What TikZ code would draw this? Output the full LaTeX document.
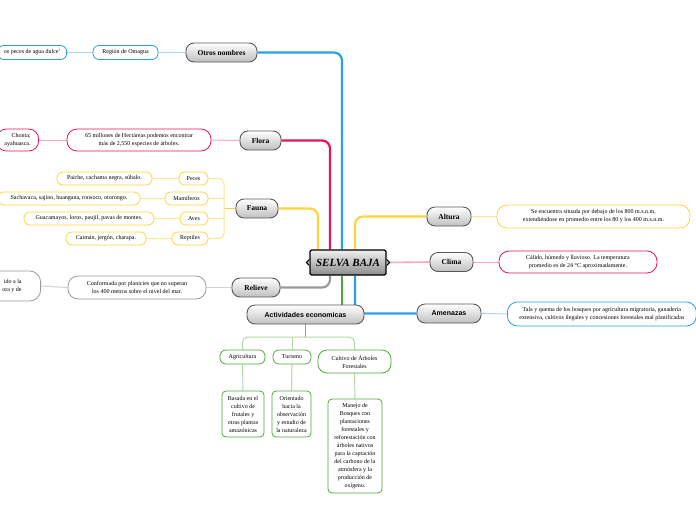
\documentclass[tikz,border=0pt]{standalone}
\usepackage{fontspec}
\setmainfont{Liberation Serif}
\newfontfamily\sansbold{Liberation Sans}
\usetikzlibrary{backgrounds}

\definecolor{azul}{HTML}{2AA0E6}
\definecolor{azulclaro}{HTML}{A6D7F3}
\definecolor{carmin}{HTML}{E0185A}
\definecolor{rosaclaro}{HTML}{F5A9C3}
\definecolor{amarillo}{HTML}{FFD43B}
\definecolor{amarilloclaro}{HTML}{FFE58C}
\definecolor{gris}{HTML}{9A9A9A}
\definecolor{grisclaro}{HTML}{D2D2D2}
\definecolor{verde}{HTML}{4FA83D}
\definecolor{verdeclaro}{HTML}{B0D9A3}

\begin{document}
\begin{tikzpicture}[x=1pt,y=-1pt,
    tema/.style={draw=black!65, line width=.9pt, rounded corners=8pt, top color=white, bottom color=black!25,
      font=\fontsize{7.5}{9}\selectfont\bfseries, minimum height=19pt, inner sep=1pt},
    hoja/.style={draw, line width=.8pt, fill=white, font=\fontsize{6}{8}\selectfont, align=center,
      inner sep=1pt, minimum height=13pt, rounded corners=6pt}]

        \useasboundingbox (0,0) rectangle (696,520);

        \node[draw=black, line width=1.3pt, rounded corners=1.5pt, top color=black!6, bottom color=black!45,
          font=\fontsize{11}{13}\selectfont\bfseries\itshape, minimum width=76pt, minimum height=25pt,
          inner sep=1pt] (selva) at (348,262.5) {SELVA BAJA};
        \draw[black, line width=1pt, fill=black!25] ([yshift=3pt]selva.west) -- ++(-3,3) -- ++(3,3);
        \draw[black, line width=1pt, fill=black!25] ([yshift=3pt]selva.east) -- ++(3,3) -- ++(-3,3);

        \begin{scope}[every node/.style={tema}]
          \node[minimum width=71pt] (otros)    at (221.5,52.5)  {Otros nombres};
          \node[minimum width=41pt] (flora)    at (260.5,140.5) {Flora};
          \node[minimum width=42pt] (fauna)    at (257,208.5)   {Fauna};
          \node[minimum width=48pt] (relieve)  at (256,287.5)   {Relieve};
          \node[minimum width=117pt, font=\fontsize{7}{9}\selectfont\sansbold\bfseries] (actividades) at (305.5,314.5) {Actividades economicas};
          \node[minimum width=44pt] (altura)   at (449,216.5)   {Altura};
          \node[minimum width=43pt] (clima)    at (451.5,262)   {Clima};
          \node[minimum width=64pt, font=\fontsize{7}{9}\selectfont\sansbold\bfseries] (amenazas) at (449,313.5) {Amenazas};
        \end{scope}

        \begin{scope}[every node/.style={hoja}]
          \node[draw=azul, minimum width=65pt, minimum height=14pt] (omagua) at (125.5,52.5) {Región de Omagua};
          \node[draw=azul, anchor=east, inner xsep=6pt, minimum height=14pt] (dulce) at (67,52.5) {os peces de agua dulce'};

          \node[draw=carmin, minimum width=144pt, minimum height=22pt, rounded corners=10pt] (hectareas) at (139,140)
            {65 millones de Hectáreas podemos encontrar\\más de 2,550 especies de árboles.};
          \node[draw=carmin, anchor=east, align=right, inner xsep=8pt, minimum height=22pt, rounded corners=10pt] (chonta) at (39,140)
            {Chonta;\\ayahuasca.};

          \node[draw=amarillo, minimum width=29pt] (peces)     at (193.5,178.5) {Peces};
          \node[draw=amarillo, minimum width=43pt] (mamiferos) at (186.5,198.5) {Mamíferos};
          \node[draw=amarillo, minimum width=28pt] (aves)      at (194,218.5)   {Aves};
          \node[draw=amarillo, minimum width=36pt] (reptiles)  at (190,238.5)   {Reptiles};
          \node[draw=amarillo, minimum width=95pt]  (paiche)     at (104.5,178.5) {Paiche, cachama negra, súbalo.};
          \node[draw=amarillo, minimum width=142pt] (sachavaca)  at (69,198.5)    {Sachavaca, sajino, huangana, ronsoco, otorongo.};
          \node[draw=amarillo, minimum width=130pt] (guacamayos) at (89,218.5)    {Guacamayos, loros, paujil, pavas de montes.};
          \node[draw=amarillo, minimum width=80pt]  (caiman)     at (106,238.5)   {Caimán, jergón, charapa.};

          \node[draw=gris, minimum width=138pt, minimum height=23pt, rounded corners=10pt] (planicies) at (137,287.5)
            {Conformada por planicies que no superan\\los 400 metros sobre el nivel del mar.};
          \node[draw=gris, anchor=east, align=right, inner xsep=19pt, minimum height=30pt, rounded corners=11pt] (corte) at (41,286)
            {ido a la\\ora y de};

          \node[draw=verde, minimum width=45pt, minimum height=14pt] (agricultura) at (242.5,357) {Agricultura};
          \node[draw=verde, minimum width=38pt, minimum height=14pt] (turismo)     at (292,357)   {Turismo};
          \node[draw=verde, minimum width=73pt, minimum height=23pt, rounded corners=9pt] (cultivo) at (354.5,361.5)
            {Cultivo de Árboles\\Forestales};
          \node[draw=verde, minimum width=42pt, minimum height=46pt, rounded corners=4pt] (basada) at (243,414)
            {Basada en el\\cultivo de\\frutales y\\otras plantas\\amazónicas};
          \node[draw=verde, minimum width=39pt, minimum height=46pt, rounded corners=4pt] (orientado) at (291.5,414)
            {Orientado\\hacia la\\observación\\y estudio de\\la naturaleza};
          \node[draw=verde, minimum width=54pt, minimum height=94pt, rounded corners=4pt] (manejo) at (355,446)
            {Manejo de\\Bosques con\\plantaciones\\forestales y\\reforestación con\\árboles nativos\\para la captación\\del carbono de la\\atmósfera y la\\producción de\\oxígeno.};

          \node[draw=amarillo, minimum width=193pt, minimum height=23pt, rounded corners=10pt] (situada) at (593.5,216.5)
            {Se encuentra situada por debajo de los 800 m.s.n.m,\\extendiéndose en promedio entre los 80 y los 400 m.s.n.m.};
          \node[draw=carmin, minimum width=158pt, minimum height=22pt, rounded corners=10pt] (calido) at (578,262)
            {Cálido, húmedo y lluvioso. La temperatura\\promedio es de 24 °C aproximadamente.};
          \node[draw=azul, anchor=west, inner xsep=12pt, minimum height=24pt, rounded corners=10pt] (tala) at (507,314)
            {Tala y quema de los bosques por agricultura migratoria, ganadería\\extensiva, cultivos ilegales y concesiones forestales mal planificadas};
        \end{scope}

        \coordinate (fj) at (224,208.5);
        \coordinate (aj) at (305.5,337);

        \begin{scope}[on background layer={rounded corners=8pt, line width=2.2pt}]
          \draw[azul]     ([xshift=-6pt]selva.north)  |- (otros.east);
          \draw[carmin]   ([xshift=-18pt]selva.north) |- (flora.east);
          \draw[amarillo] ([xshift=-30pt]selva.north) |- (fauna.east);
          \draw[gris]     ([xshift=-18pt]selva.south) |- (relieve.east);
          \draw[verde]    ([xshift=-6pt]selva.south)  -- ([xshift=-6pt]selva.south |- actividades.north);
          \draw[azul]     ([xshift=7pt]selva.south)   |- (amenazas.west);
          \draw[amarillo] ([xshift=7pt]selva.north)   |- (altura.west);
          \draw[rosaclaro, line width=1.6pt] (selva.east) -- (clima.west);
        \end{scope}

        \begin{scope}[on background layer={line width=1pt}]
          \draw[azulclaro] (otros.west) -- (omagua.east);
          \draw[azulclaro] (omagua.west) -- (dulce.east);
          \draw[rosaclaro] (flora.west) -- (hectareas.east);
          \draw[rosaclaro] (hectareas.west) -- (chonta.east);
          \draw[amarillo, line width=1.4pt] (fauna.west) -- (fj);
          \draw[amarilloclaro, rounded corners=5pt] (peces.east) -| (fj) |- (reptiles.east);
          \draw[amarilloclaro] (mamiferos.east) -- (mamiferos.east -| fj);
          \draw[amarilloclaro] (aves.east) -- (aves.east -| fj);
          \draw[amarilloclaro] (peces.west) -- (paiche.east);
          \draw[amarilloclaro] (mamiferos.west) -- (sachavaca.east);
          \draw[amarilloclaro] (aves.west) -- (guacamayos.east);
          \draw[amarilloclaro] (reptiles.west) -- (caiman.east);
          \draw[grisclaro] (relieve.west) -- (planicies.east);
          \draw[grisclaro] (planicies.west) -- (corte.east);
          \draw[verde!80, line width=1.3pt] (actividades.south) -- (aj);
          \draw[verdeclaro, rounded corners=5pt] (agricultura.north) |- (aj) -| (cultivo.north);
          \draw[verdeclaro] (turismo.north) -- (turismo.north |- aj);
          \draw[verdeclaro] (agricultura.south) -- (basada.north);
          \draw[verdeclaro] (turismo.south) -- (orientado.north);
          \draw[verdeclaro] (cultivo.south) -- (manejo.north);
          \draw[amarilloclaro] (altura.east) -- (situada.west);
          \draw[rosaclaro] (clima.east) -- (calido.west);
          \draw[azulclaro] (amenazas.east) -- (tala.west);
        \end{scope}

      \end{tikzpicture}
\end{document}
